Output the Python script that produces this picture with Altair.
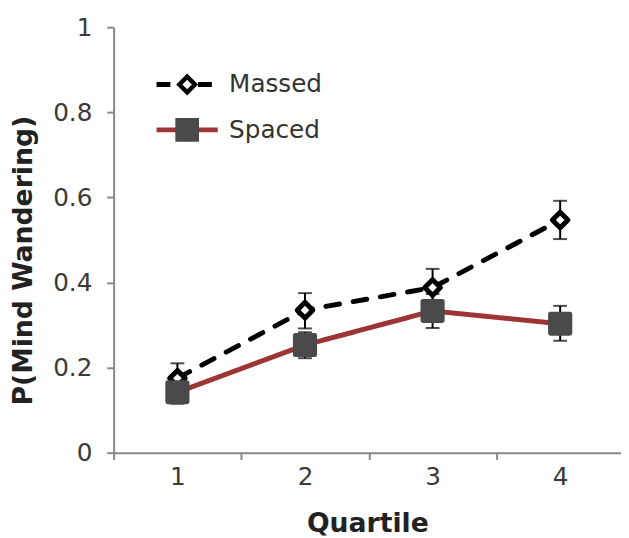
import altair as alt
import pandas as pd

quartiles = ["1", "2", "3", "4"]
series_names = ["Massed", "Spaced"]
marker_names = ["Massed marker", "Spaced marker"]
massed = [0.175, 0.335, 0.388, 0.547]
massed_lo = [0.140, 0.292, 0.345, 0.502]
massed_hi = [0.210, 0.375, 0.432, 0.592]
spaced = [0.142, 0.253, 0.333, 0.303]
spaced_lo = [0.115, 0.222, 0.293, 0.263]
spaced_hi = [0.170, 0.283, 0.373, 0.345]
y_ticks = [0, 0.2, 0.4, 0.6, 0.8, 1]

rows = []
for name, mk, vals, los, his in [("Massed", marker_names[0], massed, massed_lo, massed_hi),
                                 ("Spaced", marker_names[1], spaced, spaced_lo, spaced_hi)]:
    for q, v, l, h in zip(quartiles, vals, los, his):
        rows.append({"quartile": q, "series": name, "marker": mk, "p": v, "lo": l, "hi": h})
df = pd.DataFrame(rows)

FONT = "DejaVu Sans"
YTITLE = "P(Mind Wandering)"
W = 517

x = alt.X("quartile:O",
          scale=alt.Scale(type="band", paddingInner=0, paddingOuter=0),
          axis=alt.Axis(title="Quartile", labelAngle=0, tickBand="extent",
                        labelPadding=5, titleX=257, titleY=72,
                        titleBaseline="middle", titleAlign="center"))

y = alt.Y("p:Q", title=YTITLE,
          scale=alt.Scale(domain=[0, 1], nice=False),
          axis=alt.Axis(values=y_ticks, format="~g", labelPadding=15,
                        titleX=-91, titleY=236, titleBaseline="middle",
                        titleAlign="center", titleAngle=-90))

line_legend = alt.Legend(title=None, orient="none", legendX=62, legendY=45.5,
                         symbolType="M-3.1,0H-1.1M1.1,0H3.1", symbolSize=400,
                         symbolStrokeWidth=5, labelFontSize=25, labelFont=FONT,
                         labelColor="#333333", labelOffset=30, rowPadding=20,
                         padding=0)
point_legend = alt.Legend(title=None, orient="none", legendX=62, legendY=45.5,
                          symbolStrokeWidth=4.5, labelFontSize=25, labelExpr="''",
                          clipHeight=25, rowPadding=20, padding=0)

base = alt.Chart(df)

lines = base.mark_line(strokeWidth=5, strokeCap="round").encode(
    x=x, y=y,
    color=alt.Color("series:N", scale=alt.Scale(domain=series_names, range=["#000000", "#9e3535"]),
                    legend=line_legend),
    strokeDash=alt.StrokeDash("series:N", scale=alt.Scale(domain=series_names, range=[[14, 14], [1, 0]]),
                              legend=line_legend),
)

err = base.mark_rule(color="black", strokeWidth=2).encode(
    x=x, y=alt.Y("lo:Q", title=YTITLE), y2="hi:Q")
cap_hi = base.mark_tick(color="black", thickness=2, size=14).encode(
    x=x, y=alt.Y("hi:Q", title=YTITLE))
cap_lo = base.mark_tick(color="black", thickness=2, size=14).encode(
    x=x, y=alt.Y("lo:Q", title=YTITLE))

points = base.mark_point(filled=True, opacity=1, strokeWidth=5, strokeJoin="round").encode(
    x=x, y=y,
    shape=alt.Shape("marker:N", scale=alt.Scale(domain=marker_names, range=["diamond", "square"]),
                    legend=point_legend),
    fill=alt.Fill("marker:N", scale=alt.Scale(domain=marker_names, range=["#ffffff", "#4a4a4a"]),
                  legend=point_legend),
    stroke=alt.Stroke("marker:N", scale=alt.Scale(domain=marker_names, range=["#000000", "#4a4a4a"]),
                      legend=point_legend),
    size=alt.Size("marker:N", scale=alt.Scale(domain=marker_names, range=[250, 380]),
                  legend=point_legend),
)

chart = alt.layer(lines, err, cap_hi, cap_lo, points).properties(
    width=W, height=431,
    padding={"left": 107, "top": 16, "right": -3, "bottom": 83},
    autosize=alt.AutoSizeParams(type="none"),
).configure_view(stroke=None).configure_axis(
    grid=False, domainColor="#898989", domainWidth=2, tickColor="#898989",
    tickWidth=2, tickSize=7, labelFont=FONT, labelFontSize=25, labelColor="#3a3a3a",
    titleFont=FONT, titleFontSize=27, titleFontWeight="bold", titleColor="#222222",
)

chart.save("out.html", embed_options={"renderer": "svg", "actions": False})
